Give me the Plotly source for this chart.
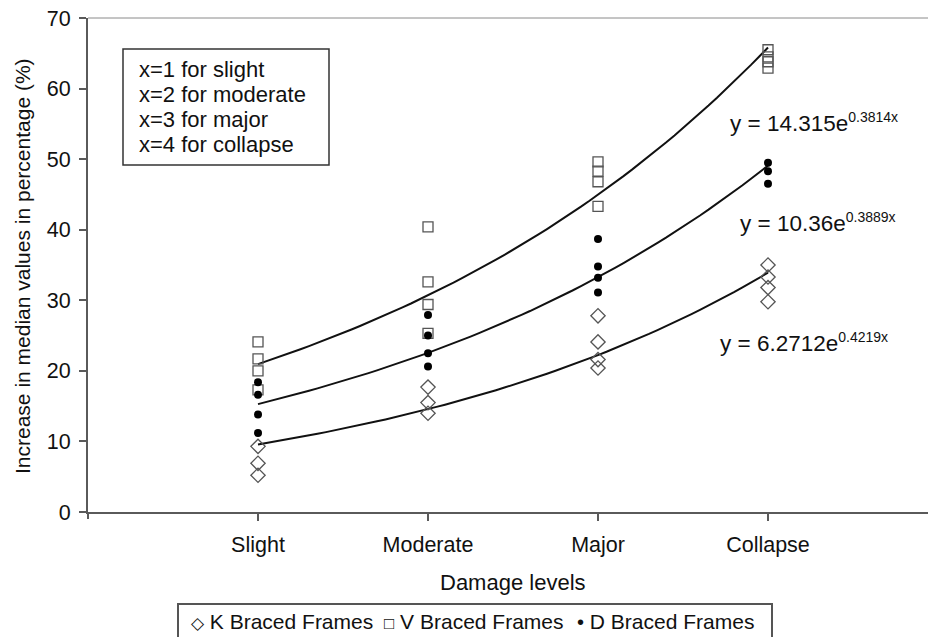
import numpy as np
import plotly.graph_objects as go

# ---------------- data ----------------
categories = ["Slight", "Moderate", "Major", "Collapse"]
category_x = [1, 2, 3, 4]

k_level = [1, 1, 1, 2, 2, 2, 3, 3, 3, 3, 4, 4, 4, 4]
k_value = [9.3, 6.9, 5.2, 17.7, 15.5, 14.0, 27.8, 24.1, 21.6, 20.4, 35.0, 33.3, 31.8, 29.8]

v_level = [1, 1, 1, 1, 2, 2, 2, 2, 3, 3, 3, 3, 4, 4, 4, 4]
v_value = [24.1, 21.7, 20.0, 17.3, 40.4, 32.6, 29.4, 25.3, 49.6, 48.3, 46.8, 43.3, 65.5, 64.5, 63.8, 62.9]

d_level = [1, 1, 1, 1, 2, 2, 2, 2, 3, 3, 3, 3, 4, 4, 4]
d_value = [18.4, 16.6, 13.8, 11.2, 27.9, 25.0, 22.5, 20.6, 38.7, 34.8, 33.2, 31.1, 49.5, 48.3, 46.5]

series_names = ["K Braced Frames", "V Braced Frames", "D Braced Frames"]
legend_glyphs = ["◇", "□", "•"]

# exponential trend lines y = a*e^(b x) as printed on the chart
trend_a = [6.2712, 14.315, 10.36]
trend_b = [0.4219, 0.3814, 0.3889]
trend_coef_text = ["6.2712", "14.315", "10.36"]
trend_exp_text = ["0.4219x", "0.3814x", "0.3889x"]

box_lines = ["x=1 for slight", "x=2 for moderate", "x=3 for major", "x=4 for collapse"]

# ---------------- layout helpers ----------------
W, H = 928, 637
L, R, T, B = 88, 0, 18, 125
PW, PH = W - L - R, H - T - B
X_PER = 170.0
XMAX = PW / X_PER


def px_x(p):
    return (p - L) / PW


def px_y(p):
    return (H - B - p) / PH


FONT = "Liberation Sans, Arial, sans-serif"
TXT = "#111111"
AX = "#5a5a5a"

fig = go.Figure()

# trend lines
xs = np.linspace(1, 4, 61)
for a, b in zip(trend_a, trend_b):
    fig.add_trace(go.Scatter(x=xs, y=a * np.exp(b * xs), mode="lines",
                             line=dict(color="#111111", width=2),
                             showlegend=False, hoverinfo="skip"))

fig.add_trace(go.Scatter(x=k_level, y=k_value, mode="markers", name=series_names[0],
                         marker=dict(symbol="diamond-open", size=11, color="#555555",
                                     line=dict(width=1.3, color="#555555"))))
fig.add_trace(go.Scatter(x=v_level, y=v_value, mode="markers", name=series_names[1],
                         marker=dict(symbol="square-open", size=10, color="#555555",
                                     line=dict(width=1.3, color="#555555"))))
fig.add_trace(go.Scatter(x=d_level, y=d_value, mode="markers", name=series_names[2],
                         marker=dict(symbol="circle", size=8, color="#000000")))

annotations = []
# equation labels (K, V, D)
eq_pos = [(718, 342), (728, 123), (738, 222)]
for c, e, (xp, yp) in zip(trend_coef_text, trend_exp_text, eq_pos):
    annotations.append(dict(text=f"y = {c}e<sup><span style='font-size:14px'>{e}</span></sup>",
                            xref="paper", yref="paper",
                            x=px_x(xp), y=px_y(yp), xanchor="left", yanchor="middle",
                            showarrow=False, font=dict(family=FONT, size=22.5, color=TXT)))

# info box text
for i, t in enumerate(box_lines):
    annotations.append(dict(text=t, xref="paper", yref="paper",
                            x=px_x(137), y=px_y(69 + 25 * i), xanchor="left", yanchor="middle",
                            showarrow=False, font=dict(family=FONT, size=22, color=TXT)))

# axis titles
annotations.append(dict(text="Damage levels", xref="paper", yref="paper",
                        x=px_x(513), y=px_y(582), xanchor="center", yanchor="middle",
                        showarrow=False, font=dict(family=FONT, size=22, color=TXT)))
annotations.append(dict(text="Increase in median values in percentage (%)", xref="paper", yref="paper",
                        x=px_x(22), y=px_y(266), xanchor="center", yanchor="middle", textangle=-90,
                        showarrow=False, font=dict(family=FONT, size=21, color=TXT)))

# legend entries (drawn as text with glyph markers)
leg_x = [189, 382, 575]
glyph_size = [17, 17, 20]
for g, gs, n, xp in zip(legend_glyphs, glyph_size, series_names, leg_x):
    annotations.append(dict(text=f"<span style='font-size:{gs}px'>{g}</span> {n}",
                            xref="paper", yref="paper", x=px_x(xp), y=px_y(621),
                            xanchor="left", yanchor="middle", showarrow=False,
                            font=dict(family=FONT, size=21, color=TXT)))

shapes = [
    # info box
    dict(type="rect", xref="paper", yref="paper",
         x0=px_x(123), x1=px_x(329), y0=px_y(165), y1=px_y(49),
         line=dict(color="#333333", width=1.5), fillcolor="white", layer="below"),
    # legend box
    dict(type="rect", xref="paper", yref="paper",
         x0=px_x(178), x1=px_x(772), y0=px_y(648), y1=px_y(604),
         line=dict(color="#555555", width=2), fillcolor="white", layer="below"),
    # plot-area top border
    dict(type="line", xref="paper", yref="paper", x0=0, x1=1, y0=1, y1=1,
         line=dict(color="#8a8a8a", width=1), layer="below"),
    # category-axis end tick at the origin
    dict(type="line", xref="paper", yref="paper", x0=0, x1=0, y0=px_y(512), y1=px_y(519),
         line=dict(color=AX, width=2)),
]

fig.update_layout(
    width=W, height=H,
    margin=dict(l=L, r=R, t=T, b=B, pad=0),
    paper_bgcolor="white", plot_bgcolor="white",
    font=dict(family=FONT, size=21, color=TXT),
    xaxis=dict(range=[0, XMAX], tickvals=category_x, ticktext=categories,
               showgrid=False, zeroline=False, showline=True, linecolor=AX, linewidth=2,
               ticks="outside", ticklen=7, tickwidth=1.5, tickcolor=AX,
               ticklabelstandoff=5, tickfont=dict(family=FONT, size=21.5, color=TXT)),
    yaxis=dict(range=[0, 70], dtick=10, showgrid=False, zeroline=False, showline=True,
               linecolor=AX, linewidth=2, ticks="outside", ticklen=7, tickwidth=1.5, tickcolor=AX,
               ticklabelstandoff=4, tickfont=dict(family=FONT, size=21.5, color=TXT)),
    annotations=annotations,
    shapes=shapes,
    showlegend=False,
)

fig.write_html("out.html")
